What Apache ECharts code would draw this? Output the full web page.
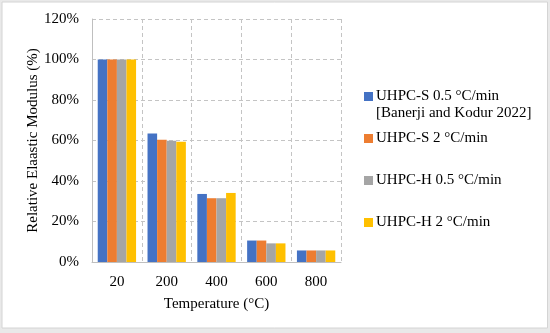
<!DOCTYPE html>
<html>
<head>
<meta charset="utf-8">
<script src="https://cdn.jsdelivr.net/npm/echarts@6/dist/echarts.min.js"></script>
<style>
html,body{margin:0;padding:0;background:#fff;}
#chart{width:550px;height:333px;}
</style>
</head>
<body>
<div id="chart"></div>
<script>
const categories = ['20', '200', '400', '600', '800'];
const seriesNames = ['UHPC-S 0.5 °C/min', 'UHPC-S 2 °C/min', 'UHPC-H 0.5 °C/min', 'UHPC-H 2 °C/min'];
const uhpcS05 = [100, 63.5, 33.6, 10.6, 5.7];
const uhpcS2 = [100, 60.4, 31.5, 10.6, 5.7];
const uhpcH05 = [100, 59.9, 31.5, 9.2, 5.7];
const uhpcH2 = [100, 59.4, 34.1, 9.2, 5.7];
const legendNote = '[Banerji and Kodur 2022]';
const colors = ['#4472C4', '#ED7D31', '#A5A5A5', '#FFC000'];

const font = 'Liberation Serif, Times New Roman, serif';
const chart = echarts.init(document.getElementById('chart'), null, {renderer: 'canvas'});
const dataSets = [uhpcS05, uhpcS2, uhpcH05, uhpcH2];

chart.setOption({
  animation: false,
  color: colors,
  textStyle: {fontFamily: font},
  grid: {left: 92, right: 209, top: 19, bottom: 71, containLabel: false},
  graphic: [
    {type: 'rect', z: -10, silent: true, shape: {x: 0, y: 0, width: 550, height: 333}, style: {fill: '#e9e9e9'}},
    {type: 'rect', z: -9, silent: true, shape: {x: 2, y: 2, width: 545.5, height: 326}, style: {fill: '#ffffff', stroke: '#d4d4d4', lineWidth: 1}},
    {type: 'text', left: 376, top: 106, style: {text: legendNote, font: '15px ' + font, fill: '#000'}}
  ],
  legend: {
    orient: 'vertical',
    left: 364,
    top: 89,
    padding: 0,
    itemWidth: 9,
    itemHeight: 9,
    itemGap: 27,
    icon: 'rect',
    textStyle: {fontFamily: font, fontSize: 15, color: '#000', padding: [0, 0, 0, -2]},
    data: seriesNames
  },
  xAxis: {
    type: 'category',
    data: categories,
    name: 'Temperature (°C)',
    nameLocation: 'middle',
    nameGap: 35,
    nameTextStyle: {fontFamily: font, fontSize: 15, color: '#000'},
    axisLine: {lineStyle: {color: '#bfbfbf', width: 1}},
    axisTick: {show: false},
    axisLabel: {fontFamily: font, fontSize: 15, color: '#000', margin: 13},
    splitLine: {show: true, lineStyle: {color: '#c4c4c4', type: [4, 3], width: 1}}
  },
  yAxis: {
    type: 'value',
    min: 0,
    max: 120,
    interval: 20,
    name: 'Relative Elaastic Modulus (%)',
    nameLocation: 'middle',
    nameGap: 51,
    nameTextStyle: {fontFamily: font, fontSize: 15, color: '#000'},
    axisLine: {show: true, lineStyle: {color: '#bfbfbf', width: 1}},
    axisTick: {show: false},
    axisLabel: {fontFamily: font, fontSize: 15, color: '#000', margin: 13, formatter: v => v + '%'},
    splitLine: {show: true, lineStyle: {color: '#c4c4c4', type: [4, 3], width: 1}}
  },
  series: dataSets.map((d, i) => ({
    name: seriesNames[i],
    type: 'bar',
    data: d,
    barGap: '0%',
    barCategoryGap: '23%'
  }))
});
</script>
</body>
</html>
